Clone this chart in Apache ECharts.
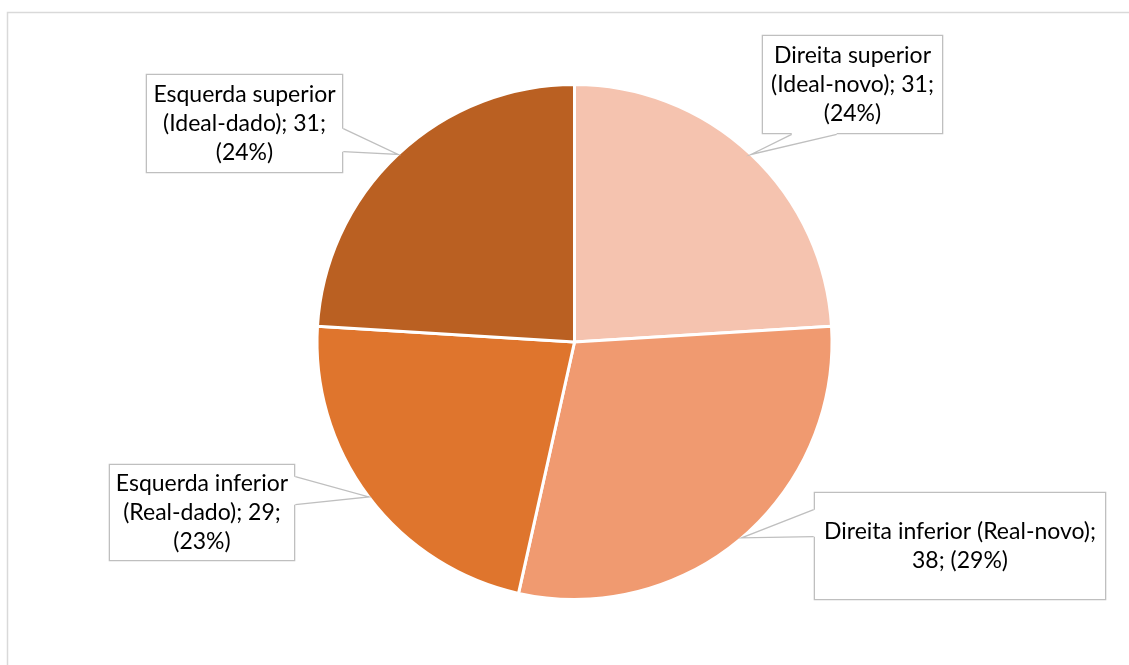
<!DOCTYPE html>
<html>
<head>
<meta charset="utf-8">
<style>
  html, body { margin: 0; padding: 0; background: #ffffff; }
  #chart { width: 1129px; height: 665px; }
</style>
<script src="https://cdn.jsdelivr.net/npm/echarts@6/dist/echarts.min.js"></script>
</head>
<body>
<div id="chart"></div>
<script>
// Quadrant counts, clockwise from 12 o'clock
const categories = [
  'Direita superior (Ideal-novo)',
  'Direita inferior (Real-novo)',
  'Esquerda inferior (Real-dado)',
  'Esquerda superior (Ideal-dado)'
];
const values = [31, 38, 29, 31];
const sliceColors = ['#F5C3AF', '#F09A70', '#DF752D', '#BA6022'];

// Callout boxes: top-left corner, content width, padding [vertical, horizontal],
// and where the pointer leaves the box (side + start/end offsets along that side)
const calloutBoxes = [
  { x: 763, y: 36,  width: 171, pad: [5, 4],  wrap: true,  side: 'bottom', from: 30, to: 75 },
  { x: 815, y: 493, width: 282, pad: [24, 4], wrap: false, side: 'left',   from: 18, to: 45 },
  { x: 110, y: 465, width: 176, pad: [4, 4],  wrap: true,  side: 'right',  from: 13, to: 41 },
  { x: 147, y: 75,  width: 187, pad: [5, 4],  wrap: true,  side: 'right',  from: 55, to: 78 }
];

const FONT = 'Lato, "Open Sans", sans-serif';
const BORDER = '#BFBFBF';

const chart = echarts.init(document.getElementById('chart'), null, { renderer: 'canvas' });

const seriesData = categories.map((name, i) => ({
  name: name,
  value: values[i],
  itemStyle: { color: sliceColors[i] },
  label: {
    width: calloutBoxes[i].width,
    padding: calloutBoxes[i].pad
  }
}));

chart.setOption({
  animation: false,
  backgroundColor: '#ffffff',
  series: [{
    type: 'pie',
    center: [574.5, 342],
    radius: 257.5,
    startAngle: 90,
    clockwise: true,
    percentPrecision: 0,
    avoidLabelOverlap: false,
    itemStyle: { borderColor: '#ffffff', borderWidth: 3 },
    label: {
      show: true,
      position: 'outside',
      fontFamily: FONT,
      fontSize: 23,
      lineHeight: 29,
      color: '#000000',
      backgroundColor: '#ffffff',
      borderColor: BORDER,
      borderWidth: 1.3,
      formatter: function (p) {
        const box = calloutBoxes[p.dataIndex];
        let text;
        if (box.wrap) {
          text = p.name.replace(' (', '\n(') + '; ' + p.value + ';\n(' + p.percent + '%)';
        } else {
          text = p.name + ';\n' + p.value + '; (' + p.percent + '%)';
        }
        return text.split('\n').map(line => '{t|' + line + '}').join('\n');
      },
      rich: {
        t: {
          align: 'center',
          fontFamily: FONT,
          fontSize: 23,
          lineHeight: 29,
          color: '#000000'
        }
      }
    },
    labelLine: { show: false },
    labelLayout: function (params) {
      const box = calloutBoxes[params.dataIndex];
      return {
        x: box.x,
        y: box.y,
        align: 'left',
        verticalAlign: 'top',
        moveOverlap: null
      };
    },
    emphasis: { disabled: true },
    data: seriesData
  }]
});

// Callout pointers: from each box edge to the slice's outer rim at its mid-angle
function drawPointers() {
  const data = chart.getModel().getSeriesByIndex(0).getData();
  const graphics = [{
    type: 'rect',
    silent: true,
    z: 0,
    shape: { x: 7.5, y: 12.5, width: 1140, height: 700 },
    style: { fill: 'none', stroke: '#D9D9D9', lineWidth: 1.5 }
  }];
  calloutBoxes.forEach((box, i) => {
    const lay = data.getItemLayout(i);
    const mid = (lay.startAngle + lay.endAngle) / 2;
    const tip = [lay.cx + lay.r * Math.cos(mid), lay.cy + lay.r * Math.sin(mid)];
    const tc = data.getItemGraphicEl(i).getTextContent();
    const rect = tc.getBoundingRect().clone();
    rect.applyTransform(tc.getComputedTransform());
    let a, b, inA, inB;
    if (box.side === 'bottom') {
      const yb = rect.y + rect.height;
      a = [rect.x + box.from, yb]; b = [rect.x + box.to, yb];
      inA = [a[0], yb - 2]; inB = [b[0], yb - 2];
    } else if (box.side === 'left') {
      const xl = rect.x;
      a = [xl, rect.y + box.from]; b = [xl, rect.y + box.to];
      inA = [xl + 2, a[1]]; inB = [xl + 2, b[1]];
    } else {
      const xr = rect.x + rect.width;
      a = [xr, rect.y + box.from]; b = [xr, rect.y + box.to];
      inA = [xr - 2, a[1]]; inB = [xr - 2, b[1]];
    }
    graphics.push({
      type: 'polygon',
      silent: true,
      z: 100,
      shape: { points: [inA, a, tip, b, inB] },
      style: { fill: '#ffffff', stroke: 'none' }
    });
    graphics.push({
      type: 'polyline',
      silent: true,
      z: 101,
      shape: { points: [a, tip, b] },
      style: { fill: 'none', stroke: BORDER, lineWidth: 1.3 }
    });
  });
  chart.setOption({ graphic: graphics });
}
drawPointers();
</script>
</body>
</html>
